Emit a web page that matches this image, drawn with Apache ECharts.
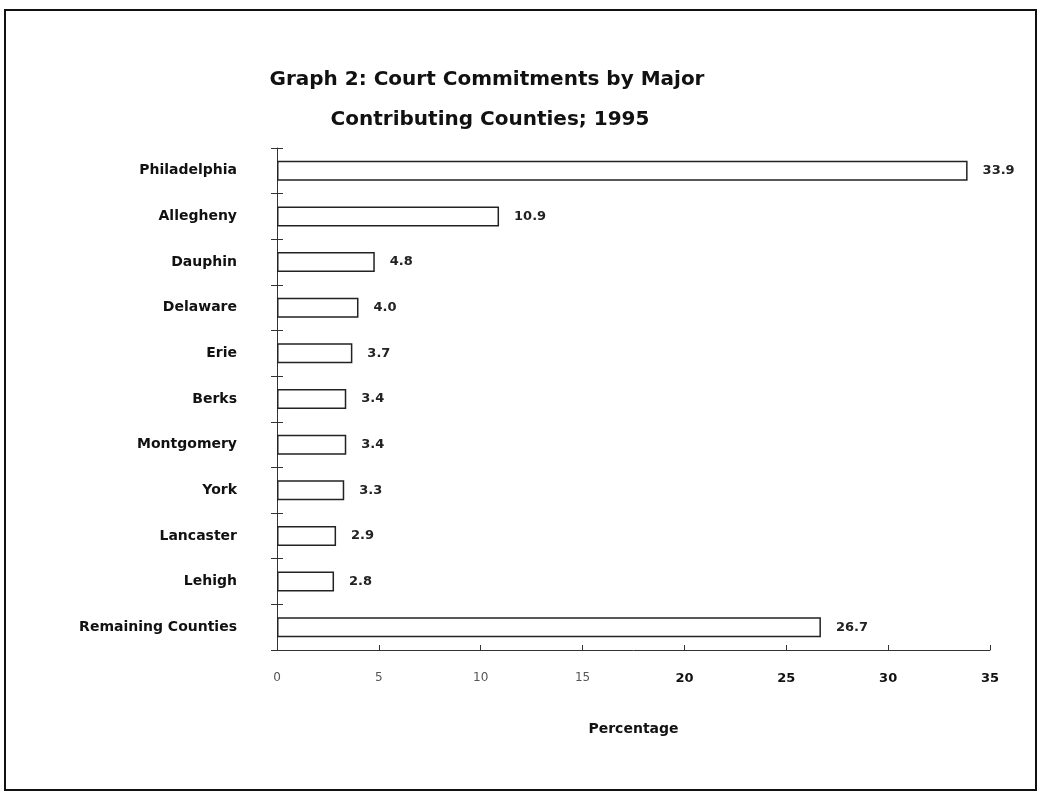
<!DOCTYPE html>
<html>
<head>
<meta charset="utf-8">
<script src="https://cdn.jsdelivr.net/npm/echarts@6/dist/echarts.min.js"></script>
<style>
    html, body { margin: 0; padding: 0; background: #fff; }
    #main { width: 1040px; height: 795px; }
</style>
</head>
<body>
<div id="main"></div>
<script>
var counties = ['Philadelphia', 'Allegheny', 'Dauphin', 'Delaware', 'Erie', 'Berks',
    'Montgomery', 'York', 'Lancaster', 'Lehigh', 'Remaining Counties'];
var percents = [33.9, 10.9, 4.8, 4.0, 3.7, 3.4, 3.4, 3.3, 2.9, 2.8, 26.7];
var xTicks = [0, 5, 10, 15, 20, 25, 30, 35];

var myChart = echarts.init(document.getElementById('main'));

// wide bold face, closest to the letter-spaced scan
var font = '"DejaVu Sans", Verdana, sans-serif';

var option = {
    backgroundColor: '#fff',
    animation: false,
    title: [{
        text: 'Graph 2: Court Commitments by Major',
        left: 482,
        top: 65,
        textAlign: 'center',
        textStyle: { fontFamily: font, fontSize: 20, fontWeight: 'bold', color: '#111' }
    }, {
        text: 'Contributing Counties; 1995',
        left: 485,
        top: 105,
        textAlign: 'center',
        textStyle: { fontFamily: font, fontSize: 20, fontWeight: 'bold', color: '#111' }
    }],
    graphic: [{
        type: 'rect',
        shape: { x: 5, y: 10, width: 1031, height: 780 },
        style: { fill: 'none', stroke: '#111', lineWidth: 2 }
    }],
    grid: {
        left: 277,
        right: 50,
        top: 148,
        bottom: 145
    },
    xAxis: {
        type: 'value',
        min: xTicks[0],
        max: xTicks[xTicks.length - 1],
        interval: 5,
        name: 'Percentage',
        nameLocation: 'middle',
        nameGap: 72,
        nameTextStyle: { fontFamily: font, fontSize: 14, fontWeight: 'bold', color: '#111' },
        splitLine: { show: false },
        axisLine: { show: true, lineStyle: { color: '#333', width: 1 } },
        axisTick: { show: true, inside: true, length: 5, lineStyle: { color: '#333' } },
        axisLabel: {
            margin: 22,
            formatter: function (v) {
                return v >= 20 ? '{b|' + v + '}' : '{n|' + v + '}';
            },
            rich: {
                n: { fontFamily: font, fontSize: 12, color: '#555' },
                b: { fontFamily: font, fontSize: 13, fontWeight: 'bold', color: '#111' }
            }
        }
    },
    yAxis: [{
        type: 'category',
        data: counties,
        inverse: true,
        axisLine: { show: true, lineStyle: { color: '#333', width: 1 } },
        axisTick: { show: true, length: 6, lineStyle: { color: '#333' } },
        axisLabel: {
            margin: 40,
            fontFamily: font,
            fontSize: 14,
            fontWeight: 'bold',
            color: '#111'
        }
    }, {
        type: 'category',
        data: counties,
        inverse: true,
        position: 'left',
        axisLine: { show: false },
        axisTick: { show: true, inside: true, length: 6, lineStyle: { color: '#333' } },
        axisLabel: { show: false }
    }],
    series: [{
        type: 'bar',
        data: percents,
        barWidth: 20,
        itemStyle: {
            color: '#fff',
            borderColor: '#222',
            borderWidth: 1.5
        },
        label: {
            show: true,
            position: 'right',
            distance: 15,
            fontFamily: font,
            fontSize: 13,
            fontWeight: 'bold',
            color: '#222',
            formatter: function (p) {
                return p.value.toFixed(1);
            }
        }
    }]
};

myChart.setOption(option);
</script>
</body>
</html>
